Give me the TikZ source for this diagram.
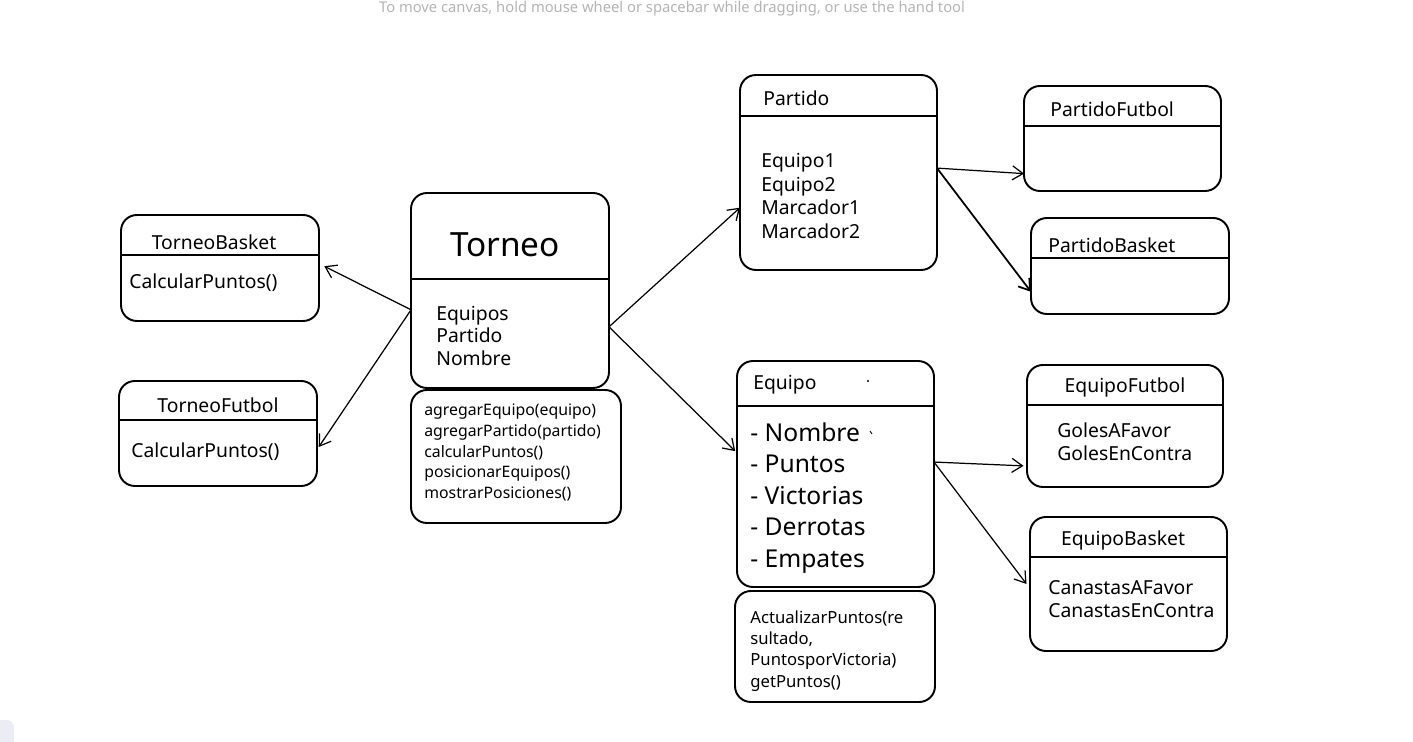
\documentclass[tikz,border=0pt]{standalone}
\usepackage{fontspec}
\setmainfont{Noto Sans}
\usetikzlibrary{arrows.meta}
\definecolor{gristexto}{HTML}{B4B4B4}
\definecolor{lavanda}{HTML}{ECECF4}
\tikzset{
  clase/.style={draw, line width=1.1pt, rounded corners=9pt, inner sep=0pt, outer sep=0pt},
  divisor/.style={line width=1.1pt},
  flecha/.style={line width=0.7pt, -{Straight Barb[length=6pt,width=8pt]}},
  titulo/.style={inner sep=0pt, font=\fontsize{11}{13}\selectfont},
  campo/.style={anchor=west, align=left, inner sep=0pt, font=\fontsize{11}{13.2}\selectfont},
  metodo/.style={anchor=west, align=left, inner sep=0pt, font=\fontsize{9}{11.8}\selectfont},
}
\begin{document}
\begin{tikzpicture}[x=0.02cm, y=-0.02cm]
  \useasboundingbox (0,0) rectangle (1413,742);
  % 顶部提示与角落
  \node[text=gristexto, font=\fontsize{8.4}{9}\selectfont] (aviso) at (672,9)
    {To move canvas, hold mouse wheel or spacebar while dragging, or use the hand tool};
  \fill[lavanda, rounded corners=4pt] (-20,720) rectangle (14,760);

  % 类框
  \node[clase, minimum width=3.96cm, minimum height=2.12cm] (tbasket) at (220,268) {};
  \node[clase, minimum width=3.96cm, minimum height=2.10cm] (tfutbol) at (218,433.5) {};
  \node[clase, minimum width=3.96cm, minimum height=3.90cm] (torneo) at (510,290.5) {};
  \node[clase, minimum width=4.20cm, minimum height=2.66cm] (tmetodos) at (516,456.5) {};
  \node[clase, minimum width=3.94cm, minimum height=3.90cm] (partido) at (838.5,172.5) {};
  \node[clase, minimum width=3.94cm, minimum height=2.10cm] (pfutbol) at (1122.5,138.5) {};
  \node[clase, minimum width=3.96cm, minimum height=1.92cm] (pbasket) at (1130,266) {};
  \node[clase, minimum width=3.94cm, minimum height=4.52cm] (equipo) at (835.5,474) {};
  \node[clase, minimum width=4.00cm, minimum height=2.22cm] (emetodos) at (835,646.5) {};
  \node[clase, minimum width=3.92cm, minimum height=2.44cm] (efutbol) at (1125,426) {};
  \node[clase, minimum width=3.94cm, minimum height=2.68cm] (ebasket) at (1128.5,584) {};

  % 分隔线
  \foreach \n/\y in {tbasket/255, tfutbol/420, torneo/279, partido/116, pfutbol/126,
                     pbasket/258, equipo/406, efutbol/405, ebasket/557} {
    \draw[divisor] (\n.west |- 0,\y) -- (\n.east |- 0,\y);
  }

  % 文字
  \node[titulo] (tbasket-t) at (214,242) {TorneoBasket};
  \node[campo] (tbasket-m) at (129,283) {CalcularPuntos()};
  \node[titulo] (tfutbol-t) at (218,405) {TorneoFutbol};
  \node[campo] (tfutbol-m) at (131,452) {CalcularPuntos()};
  \node[titulo, font=\fontsize{19}{22}\selectfont] (torneo-t) at (505,245) {Torneo};
  \node[campo, font=\fontsize{11}{12.8}\selectfont] (torneo-c) at (436,335.5)
    {Equipos\\Partido\\Nombre};
  \node[metodo] (torneo-m) at (424,452.5)
    {agregarEquipo(equipo)\\agregarPartido(partido)\\calcularPuntos()\\posicionarEquipos()\\mostrarPosiciones()};
  \node[titulo, anchor=west] (partido-t) at (763,98) {Partido};
  \node[campo, font=\fontsize{11}{13.6}\selectfont] (partido-c) at (761,196)
    {Equipo1\\Equipo2\\Marcador1\\Marcador2};
  \node[titulo, anchor=west] (pfutbol-t) at (1050,109) {PartidoFutbol};
  \node[titulo, anchor=west] (pbasket-t) at (1048,245) {PartidoBasket};
  \node[titulo, anchor=west] (equipo-t) at (753,385) {Equipo};
  \node[campo, font=\fontsize{14}{17.9}\selectfont] (equipo-c) at (750,498)
    {- Nombre\\- Puntos\\- Victorias\\- Derrotas\\- Empates};
  \node[metodo, font=\fontsize{9.5}{12.1}\selectfont] (equipo-m) at (750,651)
    {ActualizarPuntos(re\\sultado,\\PuntosporVictoria)\\getPuntos()};
  \node[titulo] (efutbol-t) at (1125,387) {EquipoFutbol};
  \node[campo] (efutbol-c) at (1057,441.5) {GolesAFavor\\GolesEnContra};
  \node[titulo] (ebasket-t) at (1123,540) {EquipoBasket};
  \node[campo] (ebasket-c) at (1048,599.5) {CanastasAFavor\\CanastasEnContra};

  % 小点
  \fill (868,381) circle (0.6pt);
  \draw[line width=0.5pt] (870,431) -- (872,434);

  % 箭头
  \draw[flecha] ([yshift=-11pt]torneo.west) -- ([xshift=3pt,yshift=1pt]tbasket.east);
  \draw[flecha] ([yshift=-11pt]torneo.west) -- ([xshift=1pt,yshift=-7.7pt]tfutbol.east);
  \draw[flecha] ([yshift=-20.7pt]torneo.east) -- ([yshift=-20pt]partido.west);
  \draw[flecha] ([yshift=-20.7pt]torneo.east) -- ([xshift=-1pt,yshift=13pt]equipo.west);
  \draw[flecha] ([yshift=2.5pt]partido.east) -- ([yshift=-20pt]pfutbol.west);
  \draw[flecha, line width=1pt] ([yshift=2.5pt]partido.east) -- ([yshift=-14.7pt]pbasket.west);
  \draw[flecha] ([yshift=6.8pt]equipo.east) -- ([xshift=-2pt,yshift=-22.7pt]efutbol.west);
  \draw[flecha] ([yshift=6.8pt]equipo.east) -- ([xshift=-2pt]ebasket.west);
\end{tikzpicture}
\end{document}
